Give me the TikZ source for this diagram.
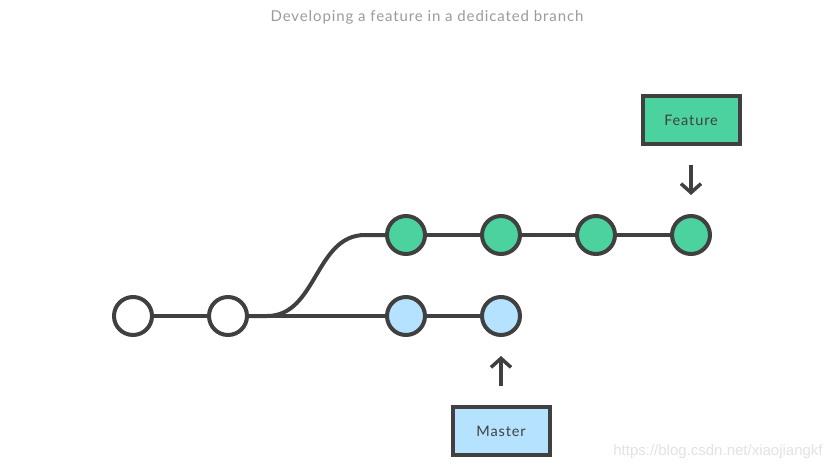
\documentclass[tikz,border=0pt]{standalone}
\usepackage{fontspec}
\setmainfont{Lato}[LetterSpace=6]
\usetikzlibrary{arrows.meta, positioning}

\definecolor{linegray}{HTML}{404040}
\definecolor{featgreen}{HTML}{4CD29E}
\definecolor{mastblue}{HTML}{B5E2FF}
\definecolor{titlegray}{HTML}{9A9A9A}
\definecolor{markgray}{HTML}{E2E2E2}

\begin{document}
\begin{tikzpicture}[
    x=1pt, y=-1pt,
    commit/.style={
        circle,
        draw=linegray,
        line width=4pt,
        minimum size=38pt,
        inner sep=0pt,
        outer sep=0pt
    },
    branchlabel/.style={
        draw=linegray,
        line width=4pt,
        minimum width=97pt,
        minimum height=48pt,
        outer sep=0pt,
        text=linegray,
        font=\fontsize{14.5}{17}\selectfont
    },
    history/.style={draw=linegray, line width=4pt},
    pointer/.style={draw=linegray, line width=3.5pt, -{Straight Barb[length=9pt, width=20pt]}},
    node distance=57pt
]
\useasboundingbox (0,0) rectangle (839,469);

% ------------------------
% Title
% ------------------------
\node[text=titlegray, font=\fontsize{15}{18}\selectfont] (title) at (427,17)
{Developing a feature in a dedicated branch};

% ------------------------
% Master history (bottom row)
% ------------------------
\node[commit, fill=white] (w1) at (133,316) {};
\node[commit, fill=white, right=of w1] (w2) {};
\node[commit, fill=mastblue, right=140pt of w2] (b1) {};
\node[commit, fill=mastblue, right=of b1] (b2) {};

% ------------------------
% Feature branch (top row)
% ------------------------
\node[commit, fill=featgreen, above=43pt of b1] (g1) {};
\node[commit, fill=featgreen, right=of g1] (g2) {};
\node[commit, fill=featgreen, right=of g2] (g3) {};
\node[commit, fill=featgreen, right=of g3] (g4) {};

% ------------------------
% Branch labels
% ------------------------
\node[branchlabel, fill=featgreen, above=72pt of g4] (feature) {Feature};
\node[branchlabel, fill=mastblue, below=72pt of b2] (master) {Master};

% ------------------------
% Connections
% ------------------------
\draw[history] (w1) -- (w2);
\draw[history] (w2) -- (b1);
\draw[history] (b1) -- (b2);
\draw[history] (w2.east) -- ++(20,0)
  .. controls +(50,0) and +(-50,0) .. ([xshift=-22pt]g1.west) -- (g1.west);
\draw[history] (g1) -- (g2);
\draw[history] (g2) -- (g3);
\draw[history] (g3) -- (g4);

\draw[pointer, shorten <=21pt, shorten >=21pt] (feature) -- (g4);
\draw[pointer, shorten <=21pt, shorten >=21pt] (master) -- (b2);

% watermark
\node[text=markgray, font=\fontsize{15}{17}\fontspec{Liberation Sans}\selectfont] (mark) at (718,452)
{https://blog.csdn.net/xiaojiangkf};

\end{tikzpicture}
\end{document}
